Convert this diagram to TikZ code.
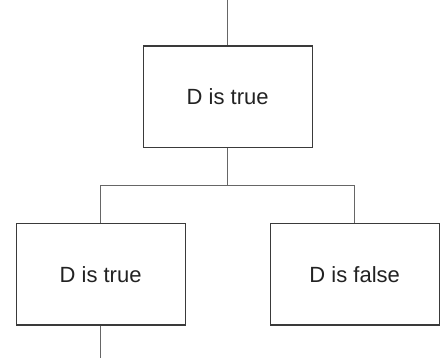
\documentclass[tikz,border=0pt]{standalone}
\usepackage{fontspec}
\setmainfont{Liberation Sans}
\definecolor{boxline}{HTML}{3A3A3A}
\definecolor{connline}{HTML}{666666}
\definecolor{txt}{HTML}{222222}
\begin{document}
\begin{tikzpicture}[x=1pt,y=-1pt,
  statebox/.style={draw=boxline,line width=1.2pt,minimum width=169pt,minimum height=101.5pt,inner sep=0pt,
    font=\fontsize{22}{26}\selectfont,text=txt},
  conn/.style={draw=connline,line width=1.3pt}]
\useasboundingbox (0,0) rectangle (445,358);
\node[statebox] (top) at (227.7,96.7) {D is true};
\node[statebox] (left) at (100.6,274.2) {D is true};
\node[statebox] (right) at (354.7,274.2) {D is false};
\coordinate (topin) at (227.7,0);
\coordinate (split) at (227.7,185.3);
\coordinate (lout) at (100.6,358);
\draw[conn] (topin) -- (top.north);
\draw[conn] (top.south) -- (split);
\draw[conn] (left.north) |- (split) -| (right.north);
\draw[conn] (left.south) -- (lout);
\end{tikzpicture}
\end{document}
